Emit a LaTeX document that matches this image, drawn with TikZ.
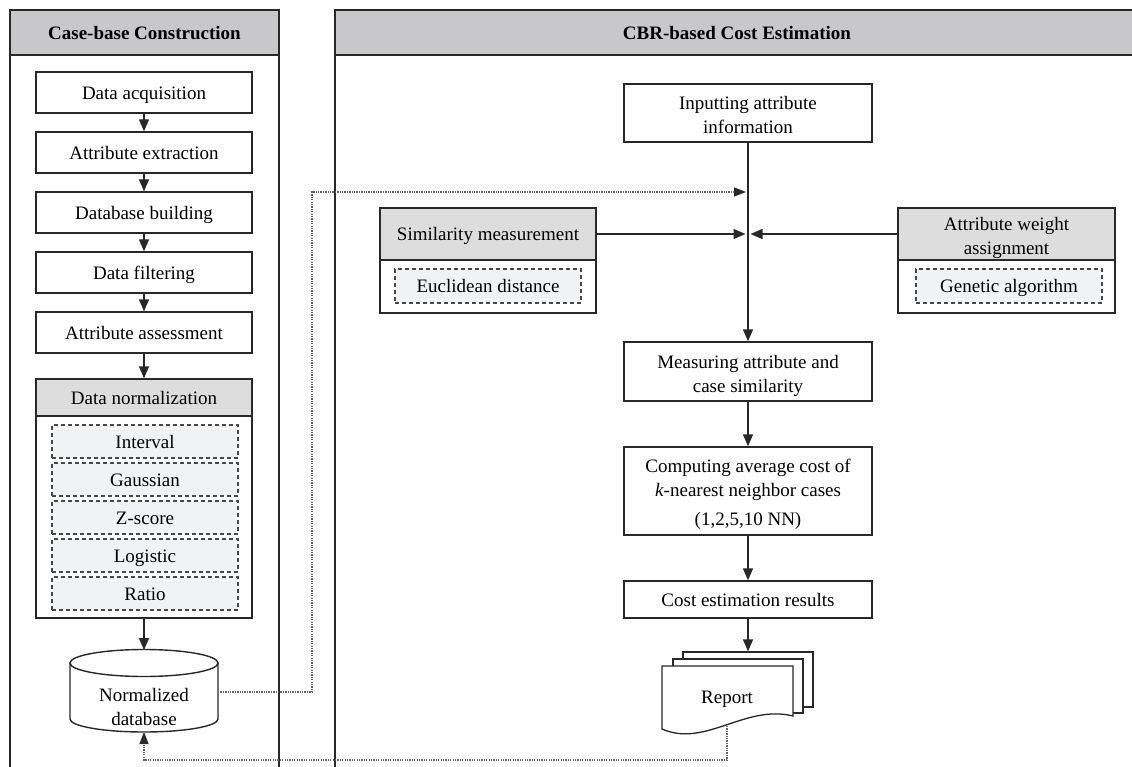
\documentclass[tikz,border=0pt]{standalone}
\usepackage{fontspec}
\setmainfont{Liberation Serif}
\usetikzlibrary{arrows.meta}
\definecolor{panelgray}{RGB}{200,200,202}
\definecolor{headgray}{RGB}{221,221,221}
\definecolor{optfill}{RGB}{240,242,244}
\definecolor{linecol}{RGB}{40,40,40}
% invisible strut that lowers multi-line labels inside their boxes
\newcommand{\lowerby}[1]{\rule{0pt}{#1}}
\begin{document}
\begin{tikzpicture}[x=1pt,y=-1pt,
  font=\fontsize{19}{24}\selectfont,
  box/.style={draw=linecol, line width=1.4pt, fill=white, rectangle, inner sep=0pt, align=center},
  oneline/.style={text height=14pt, text depth=0pt},
  panelhead/.style={box, fill=panelgray, font=\fontsize{19}{24}\selectfont\bfseries},
  subhead/.style={box, fill=headgray},
  option/.style={draw=linecol!85, line width=1.2pt, dash pattern=on 4pt off 3pt, fill=optfill, rectangle, inner sep=0pt, align=center, oneline},
  sheet/.style={draw=linecol, line width=1.3pt, fill=white, rectangle, inner sep=0pt},
  tip/.tip={Triangle[length=12pt,width=10pt]},
  flow/.style={draw=linecol, line width=1.4pt, -tip},
  feedback/.style={draw=black!60, line width=1.2pt, dash pattern=on 1.3pt off 1.1pt, -{Triangle[length=12pt,width=9pt,fill=linecol,color=linecol]}},
  frame/.style={draw=linecol, line width=1.4pt}]
\useasboundingbox (0,0) rectangle (1132,767);

% ---- left panel: case-base construction ----
\node[panelhead, oneline, minimum width=269pt, minimum height=45pt] (lhead) at (144.5,32.5) {Case-base Construction};
\draw[frame] (10,55) -- (10,767);
\draw[frame] (279,55) -- (279,767);

\node[box, oneline, minimum width=216pt, minimum height=41pt] (acq) at (144,92.5) {Data acquisition};
\node[box, oneline, minimum width=216pt, minimum height=41pt] (ext) at (144,152.5) {Attribute extraction};
\node[box, oneline, minimum width=216pt, minimum height=41pt] (dbb) at (144,212.5) {Database building};
\node[box, oneline, minimum width=216pt, minimum height=41pt] (filt) at (144,272.5) {Data filtering};
\node[box, oneline, minimum width=216pt, minimum height=41pt] (assess) at (144,332.5) {Attribute assessment};

\node[box, minimum width=216pt, minimum height=239pt] (norm) at (144,498.5) {};
\node[subhead, oneline, minimum width=216pt, minimum height=37pt] (normhead) at (144,397.5) {Data normalization};
\node[option, minimum width=186pt, minimum height=33pt] (o1) at (145,441.5) {Interval};
\node[option, minimum width=186pt, minimum height=33pt] (o2) at (145,479.5) {Gaussian};
\node[option, minimum width=186pt, minimum height=33pt] (o3) at (145,517.5) {Z-score};
\node[option, minimum width=186pt, minimum height=33pt] (o4) at (145,555.5) {Logistic};
\node[option, minimum width=186pt, minimum height=33pt] (o5) at (145,593.5) {Ratio};

% normalized database cylinder
\path[box] (70,663) -- (70,719) arc[start angle=180, end angle=0, x radius=74, y radius=13] -- (218,663) -- cycle;
\draw[box] (144,663) ellipse [x radius=74, y radius=13.5];
\node[align=center, inner sep=0pt] (db) at (144,707) {Normalized\\database};
\coordinate (dbtop) at (144,650);
\coordinate (dbbot) at (144,732);
\coordinate (dbright) at (218,692);

\draw[flow] (acq) -- (ext);
\draw[flow] (ext) -- (dbb);
\draw[flow] (dbb) -- (filt);
\draw[flow] (filt) -- (assess);
\draw[flow] (assess) -- (normhead);
\draw[flow] (norm.south) -- (dbtop);

% ---- right panel: CBR-based cost estimation ----
\node[panelhead, minimum width=801pt, minimum height=45pt] (rhead) at (735.5,32.5) {};
\node[font=\fontsize{19}{24}\selectfont\bfseries, inner sep=0pt, oneline] (rtitle) at (737,32.5) {CBR-based Cost Estimation};
\draw[frame] (335,55) -- (335,767);

\node[box, minimum width=248pt, minimum height=58pt] (inp) at (748,113) {\lowerby{17pt}Inputting attribute\\information};
\node[box, minimum width=248pt, minimum height=59pt] (meas) at (748,371.5) {\lowerby{22pt}Measuring attribute and\\case similarity};
\node[box, minimum width=248pt, minimum height=88pt] (comp) at (748,491) {\lowerby{21pt}Computing average cost of\\\textit{k}-nearest neighbor cases\\[5pt](1,2,5,10 NN)};
\node[box, oneline, minimum width=248pt, minimum height=37pt] (res) at (748,599.5) {Cost estimation results};

\node[box, minimum width=216pt, minimum height=105pt] (sim) at (488,260.5) {};
\node[subhead, oneline, minimum width=216pt, minimum height=52pt] (simhead) at (488,234) {Similarity measurement};
\node[option, minimum width=186pt, minimum height=34pt] (euc) at (488,286) {Euclidean distance};

\node[box, minimum width=217pt, minimum height=105pt] (wgt) at (1006.5,260.5) {};
\node[subhead, minimum width=217pt, minimum height=52pt] (wgthead) at (1006.5,234) {\lowerby{22pt}Attribute weight\\assignment};
\node[option, minimum width=186pt, minimum height=34pt] (gen) at (1009,286) {Genetic algorithm};

\coordinate (jdot) at (746,192);
\coordinate (jleft) at (745.5,234);
\coordinate (jright) at (750.5,234);

\draw[flow] (inp) -- (meas);
\draw[flow] (simhead.east) -- (jleft);
\draw[flow] (wgthead.west) -- (jright);
\draw[flow] (meas) -- (comp);
\draw[flow] (comp) -- (res);

% report: stacked documents
\node[sheet, minimum width=130pt, minimum height=55pt] (sheetA) at (748,679.5) {};
\node[sheet, minimum width=130pt, minimum height=54pt] (sheetB) at (738,686) {};
\path[sheet] (662,666) -- (793,666) -- (793,716) .. controls (745,704) and (705,748) .. (662,729) -- cycle;
\node[inner sep=0pt, oneline] (report) at (727,696) {Report};
\coordinate (repbot) at (727,726);

\draw[flow] (res) -- (sheetA.north);

% dotted feedback links
\draw[feedback] (dbright) -- (312,692) -- (312,192) -- (jdot);
\draw[feedback] (repbot) -- (727,760) -- (144,760) -- (dbbot);
\end{tikzpicture}
\end{document}
